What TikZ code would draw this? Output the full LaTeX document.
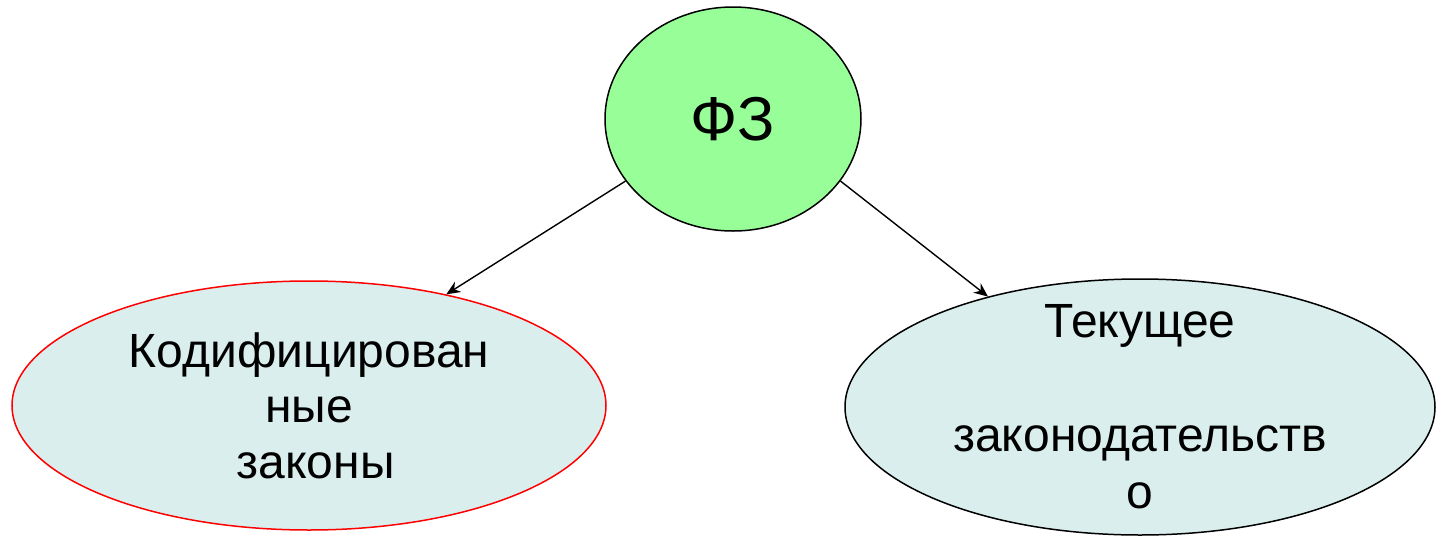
\documentclass[tikz,border=0pt]{standalone}
\usepackage{fontspec}
\setmainfont{Liberation Sans}
\usetikzlibrary{shapes.geometric,arrows.meta}
\definecolor{fzgreen}{RGB}{152,255,152}
\definecolor{lawcyan}{RGB}{218,238,238}
\begin{document}
\begin{tikzpicture}[x=0.5pt, y=-0.5pt,
    lawnode/.style={ellipse, draw, fill=lawcyan, line width=0.75pt, inner sep=0pt},
    lawtext/.style={align=center, inner sep=0pt, font=\fontsize{24}{28.5}\selectfont},
    link/.style={-{Stealth[length=7pt,width=6pt]}, line width=0.7pt}]
        \useasboundingbox (0,0) rectangle (1437,536);

        % --- Draw top node ---
        \node[ellipse, draw, fill=fzgreen, line width=0.75pt, minimum width=128pt, minimum height=112pt, font=\fontsize{31}{36}\selectfont] (fz) at (733,119) {ФЗ};
        % ---

        % --- Draw the two kinds of law ---
        \node[lawnode, draw=red, minimum width=297pt, minimum height=124.5pt] (kodif) at (309,405.5) {};
        \node[lawtext, font=\fontsize{24}{27.75}\selectfont] (kodif-text) at (kodif) {Кодифицирован\\ные\\\mbox{}\ законы};
        \node[lawnode, minimum width=295pt, minimum height=128pt] (tekush) at (1140,407) {};
        \node[lawtext] (tekush-text) at (tekush) {Текущее\\\mbox{}\\законодательств\\о};
        % ---

        % --- Draw arrows ---
        \draw[link] (fz.210) -- (kodif.39);
        \draw[link] (fz.330) -- (tekush.144);
        % ---
    \end{tikzpicture}
\end{document}
